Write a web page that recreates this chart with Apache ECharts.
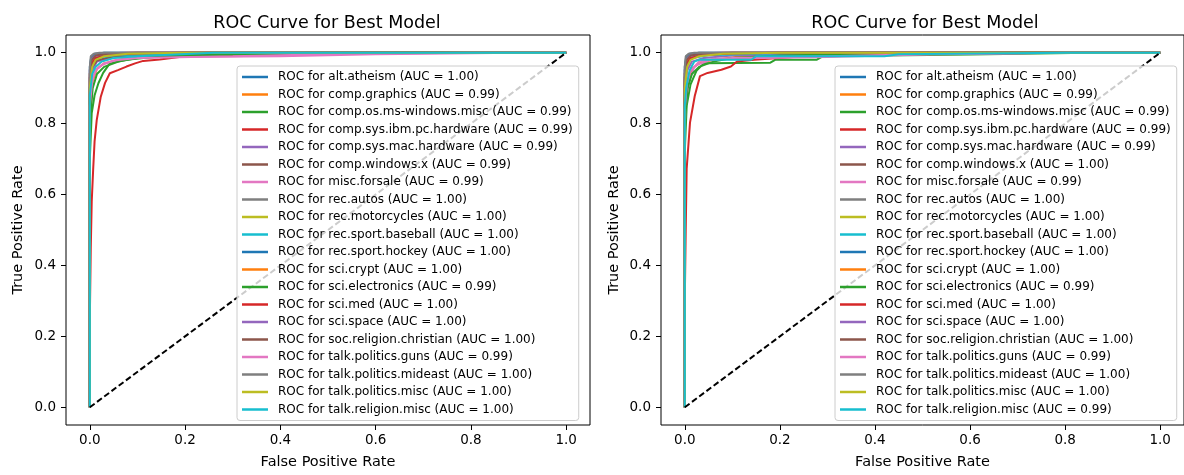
<!DOCTYPE html>
<html>
<head>
<meta charset="utf-8">
<script src="https://cdn.jsdelivr.net/npm/echarts@6/dist/echarts.min.js"></script>
<style>
html,body{margin:0;padding:0;background:#fff;}
#chart{width:1184px;height:475px;}
</style>
</head>
<body>
<div id="chart"></div>
<script>
// ---- data ----
const classNames = ['alt.atheism','comp.graphics','comp.os.ms-windows.misc','comp.sys.ibm.pc.hardware',
  'comp.sys.mac.hardware','comp.windows.x','misc.forsale','rec.autos','rec.motorcycles','rec.sport.baseball',
  'rec.sport.hockey','sci.crypt','sci.electronics','sci.med','sci.space','soc.religion.christian',
  'talk.politics.guns','talk.politics.mideast','talk.politics.misc','talk.religion.misc'];
const aucLeft  = ['1.00','0.99','0.99','0.99','0.99','0.99','0.99','1.00','1.00','1.00','1.00','1.00','0.99','1.00','1.00','1.00','0.99','1.00','1.00','1.00'];
const aucRight = ['1.00','0.99','0.99','0.99','0.99','1.00','0.99','1.00','1.00','1.00','1.00','1.00','0.99','1.00','1.00','1.00','0.99','1.00','1.00','0.99'];
const tickValues = [0, 0.2, 0.4, 0.6, 0.8, 1.0];
const diagonal = [[0,0],[1,1]];

// ROC points [FPR, TPR] per class, left model
const rocLeft = [
  [[0,0],[0,0.90],[0.004,0.96],[0.012,0.985],[0.03,0.993],[0.08,0.997],[0.2,1],[1,1]],
  [[0,0],[0,0.82],[0.006,0.92],[0.015,0.955],[0.03,0.97],[0.06,0.98],[0.12,0.99],[0.3,0.996],[0.5,1],[1,1]],
  [[0,0],[0,0.70],[0.004,0.83],[0.01,0.88],[0.018,0.914],[0.028,0.943],[0.042,0.97],[0.077,0.98],[0.15,0.99],[0.35,0.997],[0.6,1],[1,1]],
  [[0,0],[0,0.25],[0.002,0.45],[0.004,0.58],[0.007,0.67],[0.01,0.75],[0.0145,0.81],[0.023,0.876],[0.032,0.915],[0.042,0.942],[0.059,0.951],[0.077,0.961],[0.095,0.97],[0.112,0.977],[0.147,0.981],[0.2,0.99],[0.4,0.997],[0.7,1],[1,1]],
  [[0,0],[0,0.88],[0.005,0.95],[0.015,0.975],[0.04,0.985],[0.1,0.992],[0.3,0.998],[0.55,1],[1,1]],
  [[0,0],[0,0.90],[0.005,0.96],[0.015,0.978],[0.04,0.987],[0.1,0.993],[0.25,0.998],[0.5,1],[1,1]],
  [[0,0],[0,0.86],[0.006,0.93],[0.015,0.955],[0.03,0.97],[0.06,0.98],[0.1,0.987],[0.4,0.99],[0.6,0.996],[0.9,1],[1,1]],
  [[0,0],[0,0.95],[0.003,0.985],[0.01,0.995],[0.03,1],[1,1]],
  [[0,0],[0,0.92],[0.004,0.965],[0.01,0.98],[0.02,0.99],[0.05,0.996],[0.1,1],[1,1]],
  [[0,0],[0,0.93],[0.005,0.97],[0.015,0.985],[0.05,0.993],[0.15,0.997],[0.26,1],[1,1]],
  [[0,0],[0,0.96],[0.003,0.99],[0.01,0.997],[0.03,1],[1,1]],
  [[0,0],[0,0.94],[0.004,0.975],[0.012,0.99],[0.03,0.996],[0.08,1],[1,1]],
  [[0,0],[0,0.80],[0.006,0.90],[0.015,0.94],[0.03,0.96],[0.06,0.975],[0.1,0.985],[0.2,0.992],[0.4,0.997],[0.65,1],[1,1]],
  [[0,0],[0,0.93],[0.004,0.97],[0.012,0.985],[0.03,0.993],[0.1,0.998],[0.2,1],[1,1]],
  [[0,0],[0,0.95],[0.003,0.98],[0.01,0.99],[0.03,0.997],[0.07,1],[1,1]],
  [[0,0],[0,0.94],[0.004,0.98],[0.012,0.992],[0.04,0.998],[0.1,1],[1,1]],
  [[0,0],[0,0.85],[0.005,0.92],[0.012,0.95],[0.025,0.965],[0.05,0.978],[0.1,0.985],[0.3,0.99],[0.55,0.997],[0.8,1],[1,1]],
  [[0,0],[0,0.96],[0.002,0.99],[0.008,0.997],[0.02,1],[1,1]],
  [[0,0],[0,0.90],[0.005,0.96],[0.012,0.98],[0.03,0.99],[0.08,0.997],[0.2,1],[1,1]],
  [[0,0],[0,0.88],[0.005,0.94],[0.012,0.96],[0.025,0.975],[0.05,0.985],[0.1,0.99],[0.26,1],[1,1]]
];

// ROC points [FPR, TPR] per class, right model
const rocRight = [
  [[0,0],[0,0.91],[0.004,0.965],[0.012,0.985],[0.03,0.993],[0.08,0.997],[0.2,1],[1,1]],
  [[0,0],[0,0.83],[0.006,0.92],[0.015,0.955],[0.03,0.97],[0.06,0.98],[0.12,0.99],[0.3,0.996],[0.5,1],[1,1]],
  [[0,0],[0,0.72],[0.004,0.85],[0.012,0.91],[0.025,0.95],[0.04,0.97],[0.18,0.972],[0.19,0.98],[0.277,0.98],[0.29,0.99],[0.6,0.995],[0.85,1],[1,1]],
  [[0,0],[0,0.30],[0.002,0.50],[0.004,0.673],[0.011,0.803],[0.021,0.878],[0.032,0.934],[0.048,0.943],[0.077,0.952],[0.097,0.961],[0.11,0.975],[0.146,0.98],[0.25,0.99],[0.5,0.997],[0.8,1],[1,1]],
  [[0,0],[0,0.88],[0.005,0.95],[0.015,0.975],[0.04,0.985],[0.1,0.992],[0.3,0.998],[0.55,1],[1,1]],
  [[0,0],[0,0.92],[0.004,0.97],[0.012,0.985],[0.04,0.993],[0.1,0.998],[0.2,1],[1,1]],
  [[0,0],[0,0.80],[0.004,0.88],[0.01,0.924],[0.02,0.96],[0.03,0.975],[0.06,0.983],[0.3,0.988],[0.5,0.995],[0.8,1],[1,1]],
  [[0,0],[0,0.95],[0.003,0.985],[0.01,0.995],[0.03,1],[1,1]],
  [[0,0],[0,0.92],[0.004,0.965],[0.01,0.98],[0.02,0.99],[0.05,0.996],[0.1,1],[1,1]],
  [[0,0],[0,0.93],[0.005,0.97],[0.015,0.985],[0.05,0.993],[0.15,0.997],[0.26,1],[1,1]],
  [[0,0],[0,0.96],[0.003,0.99],[0.01,0.997],[0.03,1],[1,1]],
  [[0,0],[0,0.94],[0.004,0.975],[0.012,0.99],[0.03,0.996],[0.08,1],[1,1]],
  [[0,0],[0,0.80],[0.006,0.90],[0.015,0.94],[0.03,0.96],[0.06,0.975],[0.1,0.985],[0.2,0.992],[0.4,0.997],[0.65,1],[1,1]],
  [[0,0],[0,0.93],[0.004,0.97],[0.012,0.985],[0.03,0.993],[0.1,0.998],[0.2,1],[1,1]],
  [[0,0],[0,0.95],[0.003,0.98],[0.01,0.99],[0.03,0.997],[0.07,1],[1,1]],
  [[0,0],[0,0.94],[0.004,0.98],[0.012,0.992],[0.04,0.998],[0.1,1],[1,1]],
  [[0,0],[0,0.84],[0.005,0.92],[0.012,0.95],[0.025,0.965],[0.05,0.978],[0.1,0.985],[0.3,0.99],[0.55,0.997],[0.8,1],[1,1]],
  [[0,0],[0,0.96],[0.002,0.99],[0.008,0.997],[0.02,1],[1,1]],
  [[0,0],[0,0.90],[0.005,0.96],[0.012,0.98],[0.03,0.99],[0.08,0.997],[0.2,1],[1,1]],
  [[0,0],[0,0.85],[0.003,0.90],[0.01,0.95],[0.02,0.975],[0.03,0.98],[0.14,0.98],[0.15,0.99],[0.42,0.99],[0.45,0.996],[0.8,1],[1,1]]
];

const palette = ['#1f77b4','#ff7f0e','#2ca02c','#d62728','#9467bd','#8c564b','#e377c2','#7f7f7f','#bcbd22','#17becf'];

// ---- chart ----
const FONT = 'DejaVu Sans';
const chart = echarts.init(document.getElementById('chart'), null, {renderer: 'canvas'});

const gridsPx = [
  {left: 66, top: 35, width: 524, height: 391},
  {left: 661, top: 35, width: 529, height: 394}
];

function xAxisFor(i) {
  return {
    type: 'value', gridIndex: i, min: -0.05, max: 1.05, position: 'bottom',
    name: 'False Positive Rate', nameLocation: 'middle', nameGap: 30,
    nameTextStyle: {fontFamily: FONT, fontSize: 14.5, color: '#000'},
    axisLine: {show: false, onZero: false},
    splitLine: {show: false},
    axisTick: {show: true, length: 5, customValues: tickValues, lineStyle: {color: '#000', width: 1}},
    axisLabel: {customValues: tickValues, margin: 8, fontFamily: FONT, fontSize: 13.5, color: '#000',
      formatter: v => v.toFixed(1)}
  };
}
function yAxisFor(i) {
  return {
    type: 'value', gridIndex: i, min: -0.05, max: 1.05, position: 'left',
    name: 'True Positive Rate', nameLocation: 'middle', nameGap: i === 0 ? 40 : 39, nameRotate: 90,
    nameTextStyle: {fontFamily: FONT, fontSize: 14.5, color: '#000'},
    axisLine: {show: false, onZero: false},
    splitLine: {show: false},
    axisTick: {show: true, length: 5, customValues: tickValues, lineStyle: {color: '#000', width: 1}},
    axisLabel: {customValues: tickValues, margin: 10, fontFamily: FONT, fontSize: 13.5, color: '#000',
      formatter: v => v.toFixed(1)}
  };
}

const series = [];
const legendLeft = [], legendRight = [];
[[rocLeft, aucLeft, legendLeft], [rocRight, aucRight, legendRight]].forEach(([rocs, aucs, leg], gi) => {
  rocs.forEach((pts, k) => {
    const nm = 'ROC for ' + classNames[k] + ' (AUC = ' + aucs[k] + ')';
    leg.push(nm);
    series.push({
      type: 'line', name: nm, xAxisIndex: gi, yAxisIndex: gi,
      data: pts, showSymbol: false, symbol: 'none', smooth: false,
      color: palette[k % 10],
      lineStyle: {width: 2, color: palette[k % 10]},
      emphasis: {disabled: true}, silent: true, z: 2
    });
  });
  series.push({
    type: 'line', name: '_diag' + gi, xAxisIndex: gi, yAxisIndex: gi,
    data: diagonal, showSymbol: false, symbol: 'none',
    lineStyle: {width: 2, color: '#000', type: [6, 3]},
    emphasis: {disabled: true}, silent: true, z: 3
  });
});

function legendFor(data, left) {
  return {
    data: data, orient: 'vertical', left: left, top: 66,
    backgroundColor: 'rgba(255,255,255,0.8)', borderColor: '#cccccc', borderWidth: 1, borderRadius: 3,
    padding: [4, 6, 4, 5], itemWidth: 26, itemHeight: 2.5, itemGap: 3.5, icon: 'rect',
    selectedMode: false,
    textStyle: {fontFamily: FONT, fontSize: 12, color: '#000', lineHeight: 14, padding: [0, 0, 0, 5]},
    z: 10
  };
}

chart.setOption({
  animation: false,
  backgroundColor: '#fff',
  title: [
    {text: 'ROC Curve for Best Model', left: 322, top: 9, textAlign: 'center',
     textStyle: {fontFamily: FONT, fontSize: 17.5, fontWeight: 'normal', color: '#000'}},
    {text: 'ROC Curve for Best Model', left: 920, top: 9, textAlign: 'center',
     textStyle: {fontFamily: FONT, fontSize: 17.5, fontWeight: 'normal', color: '#000'}}
  ],
  grid: gridsPx.map(g => Object.assign({show: true, borderColor: '#000', borderWidth: 1, backgroundColor: 'transparent'}, g)),
  xAxis: [xAxisFor(0), xAxisFor(1)],
  yAxis: [yAxisFor(0), yAxisFor(1)],
  legend: [legendFor(legendLeft, 237), legendFor(legendRight, 835)],
  series: series
});
</script>
</body>
</html>
